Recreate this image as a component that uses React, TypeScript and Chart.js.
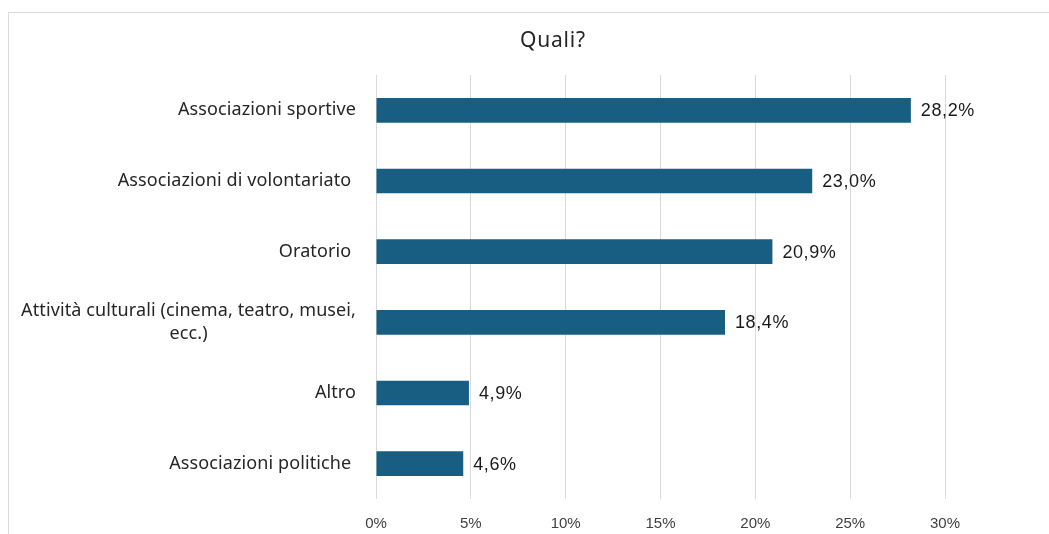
import React, { useEffect, useRef } from "react";
import { Chart, registerables } from "chart.js";

Chart.register(...registerables);

const categories: string[][] = [
  ["Associazioni sportive"],
  ["Associazioni di volontariato "],
  ["Oratorio "],
  ["Attività culturali (cinema, teatro, musei,", "ecc.)"],
  ["Altro"],
  ["Associazioni politiche "],
];
const values: number[] = [28.2, 23.0, 20.9, 18.4, 4.9, 4.6];
const tickValues: number[] = [0, 5, 10, 15, 20, 25, 30];
const titleText = "Quali?";

const BAR_COLOR = "#175e82";
const GRID_COLOR = "#d9d9d9";
const CAT_FONT = '18px "Noto Sans", sans-serif';
const VAL_FONT = '18px "Liberation Sans", Arial, sans-serif';

const fmt = (v: number) => v.toFixed(1).replace(".", ",") + "%";

const labelsPlugin = {
  id: "customLabels",
  afterDraw(chart: any) {
    const ctx = chart.ctx;
    const area = chart.chartArea;
    const yScale = chart.scales.y;
    ctx.save();
    // title
    ctx.font = '21px "Noto Sans", sans-serif';
    (ctx as any).letterSpacing = "0.8px";
    ctx.fillStyle = "#262626";
    ctx.textAlign = "center";
    ctx.textBaseline = "middle";
    ctx.fillText(titleText, 553, 41);
    // category labels
    ctx.font = CAT_FONT;
    (ctx as any).letterSpacing = "0.1px";
    ctx.fillStyle = "#262626";
    const right = area.left - 20;
    const lh = 23;
    categories.forEach((lines, i) => {
      const y = yScale.getPixelForTick(i);
      if (lines.length === 1) {
        ctx.textAlign = "right";
        ctx.fillText(lines[0], right, y);
      } else {
        const maxW = Math.max(...lines.map((l) => ctx.measureText(l).width));
        const cx = right - maxW / 2;
        ctx.textAlign = "center";
        lines.forEach((l, j) => {
          ctx.fillText(l, cx, y + (j - (lines.length - 1) / 2) * lh);
        });
      }
    });
    // value labels
    ctx.font = VAL_FONT;
    (ctx as any).letterSpacing = "0.6px";
    ctx.fillStyle = "#1a1a1a";
    ctx.textAlign = "left";
    const meta = chart.getDatasetMeta(0);
    meta.data.forEach((bar: any, i: number) => {
      ctx.fillText(fmt(values[i]), bar.x + 10, bar.y + 1);
    });
    ctx.restore();
  },
};

export default function App() {
  const ref = useRef<HTMLCanvasElement | null>(null);
  useEffect(() => {
    if (!ref.current) return;
    const chart = new Chart(ref.current, {
      type: "bar",
      data: {
        labels: categories.map((c) => c.join(" ")),
        datasets: [
          {
            data: values,
            backgroundColor: BAR_COLOR,
            borderWidth: 0,
            barPercentage: 0.35,
            categoryPercentage: 1,
          },
        ],
      },
      options: {
        indexAxis: "y",
        animation: false,
        responsive: false,
        layout: { padding: { left: 0, right: 104, top: 75, bottom: 0 } },
        plugins: {
          legend: { display: false },
          tooltip: { enabled: false },
          title: { display: false },
        },
        scales: {
          x: {
            min: 0,
            max: 30,
            afterBuildTicks: (scale: any) => {
              scale.ticks = tickValues.map((v) => ({ value: v }));
            },
            afterFit: (scale: any) => {
              scale.height = 35;
            },
            grid: { color: GRID_COLOR, lineWidth: 1, drawTicks: false },
            border: { display: false },
            ticks: {
              padding: 16,
              color: "#404040",
              font: { family: '"Liberation Sans", Arial, sans-serif', size: 15 },
              callback: (v: any) => v + "%",
            },
          },
          y: {
            grid: { display: false, drawTicks: false },
            border: { display: false },
            ticks: { display: false },
            afterFit: (scale: any) => {
              scale.width = 376;
            },
          },
        },
      },
      plugins: [labelsPlugin],
    });
    return () => chart.destroy();
  }, []);
  return (
    <div
      style={{
        position: "absolute",
        left: 0,
        top: 0,
        width: 1049,
        height: 534,
        overflow: "hidden",
        background: "#fff",
      }}
    >
      <div
        style={{
          position: "absolute",
          left: 8,
          top: 12,
          width: 1200,
          height: 700,
          border: `1px solid ${GRID_COLOR}`,
        }}
      />
      <canvas
        ref={ref}
        width={1049}
        height={534}
        style={{ position: "absolute", left: 0, top: 0, width: 1049, height: 534 }}
      />
    </div>
  );
}
